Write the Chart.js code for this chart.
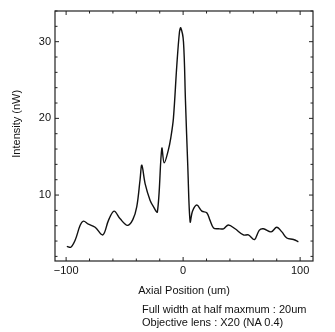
<!DOCTYPE html>
<html>
<head>
<meta charset="utf-8">
<script src="https://cdn.jsdelivr.net/npm/chart.js@4.4.0/dist/chart.umd.min.js"></script>
<style>
  html, body { margin: 0; padding: 0; background: #fff; }
  #wrap { position: relative; width: 335px; height: 332px; }
  .note { position: absolute; left: 142px; font-family: "Liberation Sans", Arial, sans-serif; font-size: 11px; color: #111; white-space: nowrap; line-height: 13px; }
</style>
</head>
<body>
<div id="wrap">
  <canvas id="axialChart" width="335" height="332"></canvas>
  <div class="note" style="top:303px;">Full width at half maxmum : 20um</div>
  <div class="note" style="top:316px;">Objective lens : X20 (NA 0.4)</div>
</div>
<script>
var positions = [-99.4, -96, -92.3, -88, -85.2, -80.9, -75.2, -68.6, -63.8, -59, -53.8, -47.6, -43, -39.6, -36.8, -35.3, -32.5, -28.2, -25.4, -22,
  -18.2, -16.2, -12.6, -10.5, -8.3, -5.4, -3.1, -2, 0.3, 2, 4, 6, 8, 11.7, 16, 20.2, 23, 26, 30.2, 34.5,
  38.7, 44.4, 51.5, 55.8, 61, 65, 68.6, 75.2, 80, 84.4, 88.6, 94.3, 98.5];
var intensity = [3.3, 3.2, 4.1, 6.05, 6.6, 6.2, 5.8, 4.8, 6.7, 7.9, 6.9, 6.05, 6.8, 8.5, 12, 13.9, 11.5, 9.3, 8.5, 7.8,
  16.1, 14.2, 15.9, 17.5, 20, 26.9, 31.3, 31.8, 30, 22.3, 13.7, 6.5, 7.9, 8.7, 7.9, 7.7, 6.7, 5.7, 5.6, 5.6,
  6.1, 5.6, 4.8, 4.8, 4.2, 5.4, 5.6, 5.2, 5.8, 5.2, 4.4, 4.2, 3.9];
var xLabels = [-100, 0, 100];
var yLabels = [10, 20, 30];

var points = positions.map(function(x, i) { return { x: x, y: intensity[i] }; });

// frame + inward tick marks on all four sides
var frameTicks = {
  id: 'frameTicks',
  afterDraw: function(chart) {
    var ctx = chart.ctx;
    var area = chart.chartArea;
    var xs = chart.scales.x;
    var ys = chart.scales.y;
    ctx.save();
    ctx.strokeStyle = '#222';
    ctx.lineWidth = 1.2;
    ctx.strokeRect(area.left, area.top, area.right - area.left, area.bottom - area.top);
    ctx.lineWidth = 1;
    ctx.beginPath();
    xs.ticks.forEach(function(t) {
      var px = xs.getPixelForValue(t.value);
      var len = (t.value % 100 === 0) ? 4 : 2.5;
      ctx.moveTo(px, area.bottom); ctx.lineTo(px, area.bottom - len);
      ctx.moveTo(px, area.top); ctx.lineTo(px, area.top + len);
    });
    ys.ticks.forEach(function(t) {
      var py = ys.getPixelForValue(t.value);
      var len = (t.value % 10 === 0) ? 4 : 2.5;
      ctx.moveTo(area.left, py); ctx.lineTo(area.left + len, py);
      ctx.moveTo(area.right, py); ctx.lineTo(area.right - len, py);
    });
    ctx.stroke();
    ctx.restore();
  }
};

var ctx = document.getElementById('axialChart').getContext('2d');
var chart = new Chart(ctx, {
  type: 'line',
  data: {
    datasets: [{
      label: 'Intensity',
      data: points,
      borderColor: '#111',
      borderWidth: 1.4,
      pointRadius: 0,
      tension: 0.35,
      fill: false
    }]
  },
  options: {
    responsive: false,
    animation: false,
    layout: { padding: { top: 11, right: 22, left: 0, bottom: 31 } },
    plugins: {
      legend: { display: false },
      tooltip: { enabled: false }
    },
    scales: {
      x: {
        type: 'linear',
        min: -109.5,
        max: 111,
        grid: { display: false, drawTicks: false },
        border: { display: false },
        afterFit: function(scale) { scale.height = 40; },
        ticks: {
          stepSize: 20,
          includeBounds: false,
          padding: 3,
          color: '#111',
          font: { family: 'Liberation Sans', size: 11 },
          maxRotation: 0,
          autoSkip: false,
          callback: function(v) {
            if (xLabels.indexOf(v) < 0) return '';
            return v < 0 ? '\u2212' + Math.abs(v) : String(v);
          }
        },
        title: {
          display: true,
          text: 'Axial Position (um)',
          color: '#111',
          font: { family: 'Liberation Sans', size: 11 },
          padding: { bottom: 3 }
        }
      },
      y: {
        min: 1.4,
        max: 34,
        grid: { display: false, drawTicks: false },
        border: { display: false },
        afterFit: function(scale) { scale.width = 55; },
        ticks: {
          stepSize: 2,
          includeBounds: false,
          padding: 4,
          color: '#111',
          font: { family: 'Liberation Sans', size: 11 },
          autoSkip: false,
          callback: function(v) {
            return yLabels.indexOf(v) >= 0 ? String(v) : '';
          }
        },
        title: {
          display: true,
          // leading spaces nudge the label up like in the original
          text: '        Intensity (nW)',
          color: '#111',
          font: { family: 'Liberation Sans', size: 11 },
          padding: { top: 10 }
        }
      }
    }
  },
  plugins: [frameTicks]
});
</script>
</body>
</html>
